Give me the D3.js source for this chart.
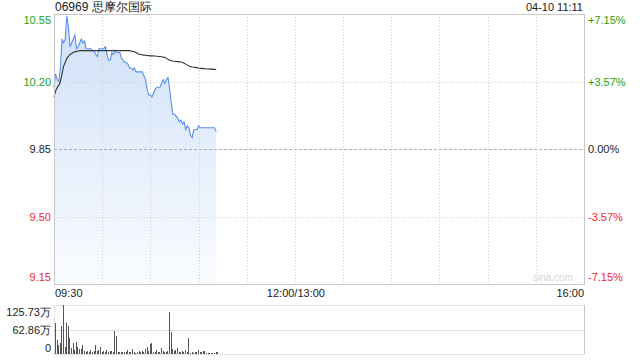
<!DOCTYPE html>
<html><head><meta charset="utf-8">
<script src="https://cdn.jsdelivr.net/npm/d3@7"></script>
<style>body{margin:0;background:#fff}svg{display:block}text{font-family:"Liberation Sans",Arial,sans-serif}</style>
</head><body><svg id="c" width="640" height="360"></svg>
<script>
const title = "06969 思摩尔国际";
const stamp = "04-10 11:11";
const prevClose = 9.85;
const priceTicks = [10.55, 10.20, 9.85, 9.50, 9.15];
const pctTicks = ["+7.15%", "+3.57%", "0.00%", "-3.57%", "-7.15%"];
const timeLabels = ["09:30", "12:00/13:00", "16:00"];
const volTicks = ["125.73万", "62.86万", "0"];
const volMax = 125.73;
// one value per minute from 09:30
const price = [10.17,10.24,10.21,10.20,10.27,10.42,10.40,10.42,10.54,10.48,
 10.38,10.40,10.42,10.44,10.37,10.38,10.40,10.42,10.40,10.41,
 10.37,10.37,10.37,10.37,10.36,10.36,10.34,10.33,10.37,10.37,
 10.37,10.37,10.38,10.34,10.31,10.31,10.35,10.34,10.36,10.35,
 10.35,10.35,10.32,10.31,10.30,10.30,10.29,10.27,10.27,10.26,
 10.27,10.25,10.25,10.25,10.25,10.25,10.23,10.21,10.16,10.13,
 10.13,10.12,10.14,10.16,10.17,10.17,10.17,10.19,10.21,10.19,
 10.21,10.22,10.16,10.09,10.03,10.03,10.02,10.01,9.99,10.00,
 9.98,9.99,9.95,9.97,9.96,9.92,9.91,9.95,9.95,9.95,
 9.97,9.96,9.96,9.96,9.96,9.96,9.96,9.96,9.96,9.96,
 9.96,9.94];
const avg = [10.12,10.15,10.17,10.18,10.20,10.24,10.28,10.30,10.32,10.33,
 10.34,10.345,10.35,10.355,10.355,10.358,10.36,10.36,10.36,10.36,
 10.36,10.36,10.36,10.36,10.36,10.36,10.36,10.36,10.36,10.36,
 10.36,10.36,10.36,10.36,10.36,10.36,10.36,10.36,10.36,10.36,
 10.36,10.36,10.36,10.36,10.36,10.36,10.36,10.36,10.358,10.356,
 10.354,10.35,10.345,10.34,10.34,10.338,10.337,10.336,10.335,10.334,
 10.333,10.333,10.332,10.332,10.331,10.33,10.33,10.328,10.326,10.325,
 10.32,10.315,10.31,10.308,10.306,10.305,10.304,10.303,10.302,10.301,
 10.30,10.295,10.29,10.285,10.28,10.278,10.275,10.274,10.273,10.272,
 10.27,10.269,10.268,10.267,10.266,10.265,10.265,10.264,10.264,10.263,
 10.263,10.262];
const vol = [79.5,35.9,23,28.2,72,125.73,18,80,72,41,
 15.4,28.2,10.3,30.8,18,12.8,12.8,23,7.7,5.1,
 7.7,5.1,10.3,5.1,7.7,23,7.7,10.3,18,5.1,
 7.7,5.1,10.3,5.1,7.7,7.7,5.1,59,46,5.1,
 5.1,5.1,5.1,5.1,5.1,10.3,5.1,5.1,12.8,5.1,
 2.6,5.1,7.7,5.1,7.7,5.1,12.8,18,7.7,25.7,
 28.2,5.1,5.1,10.3,5.1,5.1,15.4,7.7,5.1,5.1,
 7.7,107.8,56.5,12.8,7.7,10.3,15.4,5.1,5.1,7.7,
 5.1,10.3,5.1,41,2.6,5.1,2.6,5.1,5.1,10.3,
 5.1,5.1,7.7,7.7,2.6,2.6,2.6,2.6,2.6,2.6,
 5.1,5.1];

const svg = d3.select("#c");
const L = 54, R = 584, T = 14, B = 284;
const VT = 305, VB = 354;
const x = d3.scaleLinear().domain([0, 330]).range([L, R]);
const y = d3.scaleLinear().domain([9.15, 10.55]).range([B, T]);
const yv = d3.scaleLinear().domain([0, volMax]).range([VB, VT]);
const green = "#1aa31a", red = "#ee2a2a", dark = "#222";
const colorFor = v => v > prevClose + 1e-9 ? green : (v < prevClose - 1e-9 ? red : dark);

// gradient
const defs = svg.append("defs");
const g = defs.append("linearGradient").attr("id","fillg")
  .attr("gradientUnits","userSpaceOnUse").attr("x1",0).attr("y1",T).attr("x2",0).attr("y2",B);
g.append("stop").attr("offset","0%").attr("stop-color","#cfe0f8");
g.append("stop").attr("offset","100%").attr("stop-color","#fafcff");

// area first
const idx = d3.range(price.length);
const area = d3.area().x(i => x(i)).y0(B).y1(i => y(price[i]));
svg.append("path").datum(idx).attr("d", area).attr("fill", "url(#fillg)");

// vertical grid lines every 30 minutes
const vgrid = d3.range(30, 330, 30);
svg.selectAll(".vg").data(vgrid).enter().append("line")
  .attr("x1", d => Math.round(x(d)) + 0.5).attr("x2", d => Math.round(x(d)) + 0.5)
  .attr("y1", T).attr("y2", B).attr("stroke", "#cfcfcf").attr("stroke-dasharray", "1,2");
// horizontal grid
svg.selectAll(".hg").data(priceTicks.filter((d,i)=>i>0 && i<priceTicks.length-1)).enter().append("line")
  .attr("x1", L).attr("x2", R)
  .attr("y1", d => Math.round(y(d)) + 0.5).attr("y2", d => Math.round(y(d)) + 0.5)
  .attr("stroke", d => d === prevClose ? "#b0b0b0" : "#cfcfcf")
  .attr("stroke-dasharray", d => d === prevClose ? "3,2" : "1,2");

// lines
svg.append("path").datum(idx).attr("d", d3.line().x(i => x(i)).y(i => y(price[i])))
  .attr("fill","none").attr("stroke","#5b8def").attr("stroke-width",1.1);
svg.append("path").datum(idx).attr("d", d3.line().x(i => x(i)).y(i => y(avg[i])))
  .attr("fill","none").attr("stroke","#333").attr("stroke-width",1.1);

// frame
svg.append("rect").attr("x", L + 0.5).attr("y", T + 0.5).attr("width", R - L).attr("height", B - T)
  .attr("fill","none").attr("stroke","#c8c8c8");

// price labels
const fs = 11;
svg.selectAll(".pl").data(priceTicks).enter().append("text")
  .attr("x", 51).attr("y", d => Math.min(Math.max(y(d), T + 6), B - 7) + 4)
  .attr("text-anchor","end").attr("font-size", fs).attr("fill", d => colorFor(d)).text(d => d.toFixed(2));
svg.selectAll(".pr").data(pctTicks).enter().append("text")
  .attr("x", 588).attr("y", (d,i) => Math.min(Math.max(y(priceTicks[i]), T + 6), B - 7) + 4)
  .attr("font-size", fs).attr("fill", (d,i) => colorFor(priceTicks[i])).text(d => d);

// title / stamp
svg.append("text").attr("x", 55).attr("y", 11).attr("font-size", 12).attr("fill","#222").text(title);
svg.append("text").attr("x", 583).attr("y", 11).attr("text-anchor","end").attr("font-size", 11).attr("fill","#222").text(stamp);

// watermark
svg.append("text").attr("x", 573).attr("y", 281).attr("text-anchor","end").attr("font-size", 10).attr("fill","#d4d4d4").text("sina.com");

// time labels
const tpos = [0, 150, 330];
const tanchor = ["start","middle","end"];
svg.selectAll(".tl").data(timeLabels).enter().append("text")
  .attr("x", (d,i) => i === 0 ? 55 : (i === 2 ? 584 : x(tpos[i]) + 1)).attr("y", 297)
  .attr("text-anchor", (d,i) => tanchor[i]).attr("font-size", fs).attr("fill","#222").text(d => d);

// volume panel grid
[VT, (VT+VB)/2, VB].forEach(v => {
  svg.append("line").attr("x1", L).attr("x2", R).attr("y1", Math.round(v)+0.5).attr("y2", Math.round(v)+0.5)
    .attr("stroke","#c8c8c8").attr("stroke-dasharray","1,1");
});
svg.append("line").attr("x1", L+0.5).attr("x2", L+0.5).attr("y1", VT).attr("y2", VB).attr("stroke","#c8c8c8").attr("stroke-dasharray","1,1");
svg.append("line").attr("x1", R+0.5).attr("x2", R+0.5).attr("y1", VT).attr("y2", VB).attr("stroke","#c8c8c8");

// volume bars
svg.selectAll(".vb").data(idx).enter().append("rect")
  .attr("x", i => Math.round(x(i)) + 1).attr("width", 1)
  .attr("y", i => yv(vol[i])).attr("height", i => VB - yv(vol[i]))
  .attr("fill","#555");

// volume labels
const vy = [312, 330, 348];
svg.selectAll(".vl").data(volTicks).enter().append("text")
  .attr("x", 51).attr("y", (d,i) => vy[i] + 4).attr("text-anchor","end")
  .attr("font-size", fs).attr("fill","#222").text(d => d);
</script></body></html>
